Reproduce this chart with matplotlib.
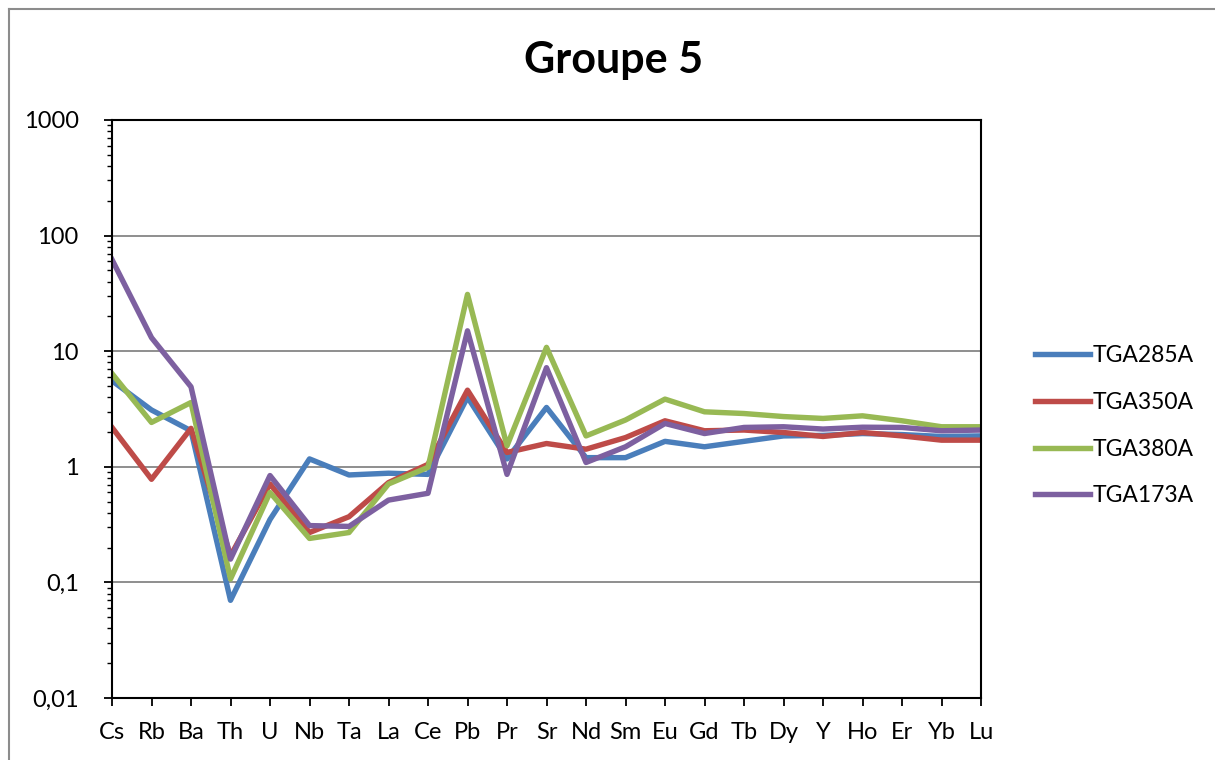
import matplotlib
matplotlib.use("Agg")
import matplotlib.pyplot as plt
from matplotlib.lines import Line2D
from matplotlib.ticker import LogLocator, FixedLocator, NullFormatter

elements = ["Cs", "Rb", "Ba", "Th", "U", "Nb", "Ta", "La", "Ce", "Pb", "Pr", "Sr",
            "Nd", "Sm", "Eu", "Gd", "Tb", "Dy", "Y", "Ho", "Er", "Yb", "Lu"]

tga285a = [5.55, 3.1, 2.05, 0.070, 0.35, 1.17, 0.85, 0.88, 0.86, 4.0, 1.17, 3.26,
           1.2, 1.2, 1.66, 1.49, 1.66, 1.85, 1.87, 1.94, 1.9, 1.83, 1.85]
tga350a = [2.19, 0.78, 2.15, 0.17, 0.71, 0.27, 0.37, 0.73, 1.05, 4.6, 1.33, 1.59,
           1.42, 1.79, 2.5, 2.05, 2.08, 1.98, 1.83, 1.98, 1.85, 1.70, 1.70]
tga380a = [6.4, 2.42, 3.6, 0.107, 0.60, 0.24, 0.27, 0.71, 0.99, 31.0, 1.52, 10.8,
           1.85, 2.54, 3.85, 2.99, 2.89, 2.72, 2.62, 2.76, 2.5, 2.22, 2.22]
tga173a = [62.0, 13.1, 4.92, 0.159, 0.84, 0.31, 0.305, 0.515, 0.59, 15.0, 0.86, 7.2,
           1.09, 1.49, 2.37, 1.94, 2.19, 2.22, 2.12, 2.2, 2.19, 2.05, 2.08]

series_names = ["TGA285A", "TGA350A", "TGA380A", "TGA173A"]
series_values = [tga285a, tga350a, tga380a, tga173a]
colors = ["#4A7EBB", "#BE4B48", "#98B954", "#7D60A0"]

ytick_values = [0.01, 0.1, 1, 10, 100, 1000]
ytick_labels = ["0,01", "0,1", "1", "10", "100", "1000"]

plt.rcParams["font.family"] = ["Lato", "DejaVu Sans"]

W, H = 1215, 760
fig = plt.figure(figsize=(W / 100, H / 100), dpi=100)
# outer chart border (top and left visible)
fig.add_artist(Line2D([8.5 / W, 1.05], [1 - 8.5 / H, 1 - 8.5 / H],
                      transform=fig.transFigure, color="#8c8c8c", linewidth=1.5))
fig.add_artist(Line2D([8.5 / W, 8.5 / W], [-0.05, 1 - 8.5 / H],
                      transform=fig.transFigure, color="#8c8c8c", linewidth=1.5))

ax = fig.add_axes([112 / W, 1 - 698 / H, (981 - 112) / W, (698 - 120) / H])
x = list(range(len(elements)))
for name, vals, c in zip(series_names, series_values, colors):
    ax.plot(x, vals, color=c, linewidth=3.9, label=name)

ax.set_yscale("log")
ax.set_ylim(0.01, 1000)
ax.set_xlim(0, len(elements) - 1)
ax.yaxis.set_major_locator(FixedLocator(ytick_values))
ax.set_yticklabels(ytick_labels)
ax.yaxis.set_minor_locator(LogLocator(base=10, subs=range(2, 10)))
ax.yaxis.set_minor_formatter(NullFormatter())
ax.set_xticks(x)
ax.set_xticklabels(elements)
ax.grid(axis="y", which="major", color="#868686", linewidth=1.3)
ax.set_axisbelow(True)
for s in ax.spines.values():
    s.set_color("black")
    s.set_linewidth(1.5)
ax.tick_params(axis="both", which="major", direction="out", length=6, width=1.3,
               labelsize=17, colors="black")
ax.tick_params(axis="y", which="major", pad=18)
ax.tick_params(axis="y", which="minor", direction="out", length=3.5, width=1.0)
ax.tick_params(axis="x", pad=11)

fig.text(614 / W, 1 - 60 / H, "Groupe 5", ha="center", va="center",
         fontsize=31, fontweight="bold")

leg = ax.legend(loc="center left", bbox_to_anchor=(1014 / W, 1 - 426 / H),
                bbox_transform=fig.transFigure, frameon=False, fontsize=16.5,
                handlelength=2.4, handletextpad=0.15, labelspacing=1.12)

fig.savefig("out.png", dpi=100)
